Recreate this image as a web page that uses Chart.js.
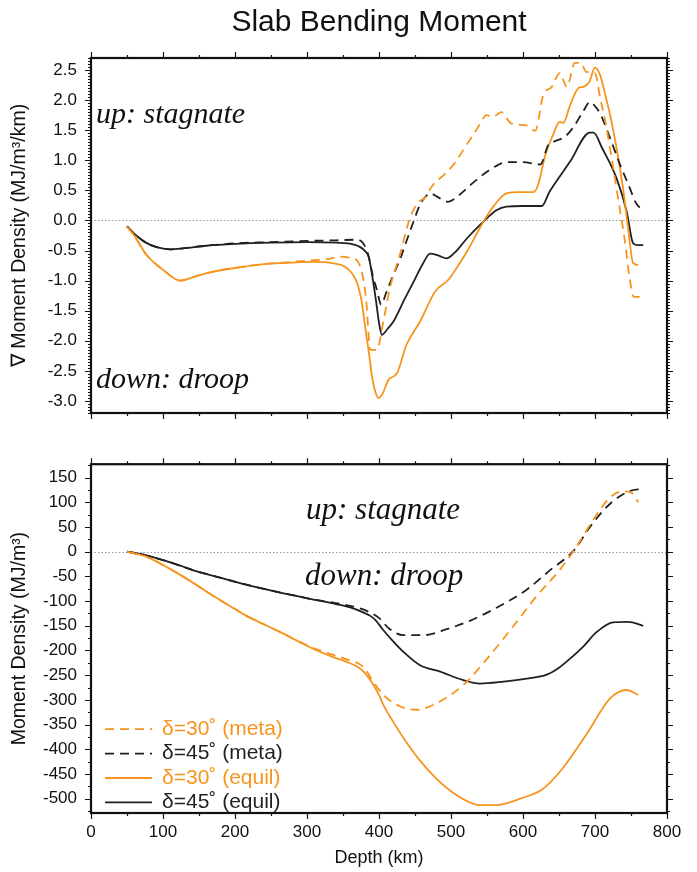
<!DOCTYPE html>
<html>
<head>
<meta charset="utf-8">
<title>Slab Bending Moment</title>
<script src="https://cdn.jsdelivr.net/npm/chart.js@4.4.1/dist/chart.umd.min.js"></script>
<style>
  html, body { margin: 0; padding: 0; background: #fff; }
  #wrap { position: relative; width: 697px; height: 872px; }
  canvas { position: absolute; left: 0; }
  #gradCanvas { top: 0; }
  #momCanvas { top: 440px; }
</style>
</head>
<body>
<div id="wrap">
  <canvas id="gradCanvas" width="697" height="440"></canvas>
  <canvas id="momCanvas" width="697" height="432"></canvas>
</div>
<script>
/* Slab bending moment — two stacked panels sharing the depth axis */

// depth axis (km)
const depthTicks = [0, 100, 200, 300, 400, 500, 600, 700, 800];

// top panel: gradient of moment density (MJ/m^3/km)
const gradTicks = [-3.0, -2.5, -2.0, -1.5, -1.0, -0.5, 0.0, 0.5, 1.0, 1.5, 2.0, 2.5];

const gradDepthMeta30 = [50, 60, 77, 100, 124, 145, 170, 200, 244, 280, 309, 330, 346, 360, 369, 376, 382, 388, 397, 406, 415, 429, 443, 455, 462, 475, 492, 505, 517, 535, 550, 558, 564, 570, 584, 605, 617, 628, 640, 651, 661, 672, 680, 688, 700, 707, 715, 725, 733, 741, 748, 754, 762];
const gradMeta30 = [-0.10, -0.25, -0.57, -0.82, -1.00, -0.93, -0.85, -0.79, -0.72, -0.69, -0.66, -0.64, -0.60, -0.62, -0.66, -0.85, -1.30, -2.15, -2.15, -1.68, -1.13, -0.57, 0.04, 0.31, 0.36, 0.59, 0.78, 0.95, 1.17, 1.50, 1.75, 1.72, 1.76, 1.80, 1.61, 1.58, 1.49, 2.08, 2.22, 2.45, 2.22, 2.62, 2.62, 2.47, 2.45, 2.05, 1.60, 0.90, 0.30, -0.30, -0.95, -1.27, -1.27];

const gradDepthMeta45 = [50, 60, 75, 90, 110, 130, 160, 200, 250, 300, 340, 369, 378, 385, 392, 397, 403, 410, 420, 430, 438, 447, 457, 465, 471, 480, 490, 496, 505, 517, 530, 550, 565, 577, 600, 624, 635, 645, 658, 670, 683, 693, 700, 707, 720, 735, 748, 756, 767];
const gradMeta45 = [-0.10, -0.22, -0.36, -0.44, -0.48, -0.46, -0.42, -0.38, -0.36, -0.34, -0.33, -0.32, -0.38, -0.57, -0.95, -1.15, -1.40, -1.20, -0.90, -0.62, -0.35, -0.05, 0.26, 0.40, 0.45, 0.40, 0.33, 0.31, 0.36, 0.48, 0.62, 0.81, 0.92, 0.97, 0.97, 0.93, 1.25, 1.32, 1.39, 1.55, 1.80, 1.97, 1.90, 1.78, 1.40, 0.92, 0.55, 0.31, 0.15];

const gradDepthEq30 = [50, 60, 77, 100, 124, 145, 170, 200, 244, 280, 309, 335, 355, 369, 376, 381, 386, 390, 395, 399, 405, 413, 425, 438, 457, 478, 496, 510, 522, 545, 560, 577, 595, 614, 621, 631, 641, 651, 656, 665, 677, 684, 692, 700, 707, 714, 721, 730, 739, 746, 753, 760];
const gradEq30 = [-0.10, -0.25, -0.57, -0.82, -1.00, -0.93, -0.85, -0.79, -0.72, -0.70, -0.69, -0.71, -0.79, -1.02, -1.35, -1.79, -2.20, -2.57, -2.85, -2.95, -2.88, -2.65, -2.54, -2.07, -1.68, -1.18, -0.99, -0.75, -0.52, -0.02, 0.25, 0.45, 0.47, 0.47, 0.59, 1.09, 1.40, 1.64, 1.62, 1.90, 2.20, 2.22, 2.30, 2.54, 2.42, 2.10, 1.75, 1.20, 0.53, -0.13, -0.71, -0.74];

const gradDepthEq45 = [50, 60, 75, 90, 110, 130, 160, 200, 250, 300, 340, 365, 380, 386, 391, 396, 400, 404, 412, 420, 435, 448, 460, 471, 482, 494, 508, 522, 545, 563, 577, 600, 626, 637, 665, 693, 698, 710, 730, 744, 753, 760, 767];
const gradEq45 = [-0.10, -0.22, -0.36, -0.44, -0.48, -0.46, -0.42, -0.39, -0.37, -0.36, -0.37, -0.40, -0.50, -0.62, -0.95, -1.35, -1.70, -1.90, -1.80, -1.68, -1.32, -1.02, -0.74, -0.55, -0.58, -0.63, -0.50, -0.30, -0.02, 0.17, 0.23, 0.24, 0.24, 0.48, 0.97, 1.46, 1.46, 1.20, 0.70, 0.15, -0.38, -0.41, -0.41];

// bottom panel: moment density (MJ/m^3)
const momTicks = [-500, -450, -400, -350, -300, -250, -200, -150, -100, -50, 0, 50, 100, 150];

const momDepthMeta30 = [50, 77, 100, 124, 147, 170, 193, 216, 240, 263, 286, 309, 332, 355, 378, 392, 406, 429, 452, 480, 517, 550, 587, 619, 651, 671, 697, 721, 739, 750, 760];
const momMeta30 = [0, -10, -27, -47, -68, -90, -110, -130, -147, -163, -180, -195, -207, -218, -233, -263, -290, -313, -320, -307, -270, -217, -150, -90, -37, 3, 63, 110, 122, 120, 100];

const momDepthMeta45 = [50, 75, 100, 125, 147, 175, 198, 230, 263, 290, 309, 340, 360, 378, 399, 415, 434, 462, 494, 526, 564, 605, 638, 671, 693, 721, 749, 765];
const momMeta45 = [0, -7, -17, -29, -40, -51, -60, -72, -83, -91, -97, -104, -110, -117, -133, -157, -169, -169, -157, -140, -113, -77, -37, 3, 50, 97, 123, 127];

const momDepthEq30 = [50, 77, 100, 124, 147, 170, 193, 216, 240, 263, 286, 309, 332, 355, 370, 380, 390, 400, 406, 420, 434, 457, 480, 508, 540, 563, 596, 628, 656, 688, 721, 744, 760];
const momEq30 = [0, -10, -27, -47, -68, -90, -110, -130, -147, -163, -180, -197, -211, -223, -233, -245, -265, -290, -310, -345, -377, -423, -460, -493, -513, -513, -500, -480, -437, -370, -297, -280, -290];

const momDepthEq45 = [50, 75, 100, 125, 147, 175, 198, 230, 263, 290, 309, 340, 360, 378, 388, 396, 405, 420, 434, 457, 485, 517, 540, 573, 605, 633, 650, 665, 685, 702, 725, 746, 767];
const momEq45 = [0, -7, -17, -29, -40, -51, -60, -72, -83, -91, -97, -106, -113, -123, -130, -140, -157, -182, -203, -230, -243, -260, -267, -263, -257, -249, -235, -217, -190, -163, -143, -142, -150];

const seriesLabels = ['δ=30˚ (meta)', 'δ=45˚ (meta)', 'δ=30˚ (equil)', 'δ=45˚ (equil)'];

const ORANGE = '#f7941d';
const INK = '#231f20';
const SANS = '"Liberation Sans", Arial, Helvetica, sans-serif';
const SERIF = '"Liberation Serif", "Times New Roman", serif';

Chart.defaults.font.family = SANS;
Chart.defaults.color = '#111';

const pts = (xs, ys) => xs.map((x, i) => ({ x, y: ys[i] }));

function lineDataset(label, xs, ys, color, dashed) {
  return {
    label,
    data: pts(xs, ys),
    borderColor: color,
    borderWidth: 1.8,
    borderDash: dashed ? [9, 6] : [],
    pointRadius: 0,
    fill: false,
    cubicInterpolationMode: 'monotone',
  };
}

// frame, outward ticks on all four sides, dotted zero line, text notes, legend
const framePlugin = {
  id: 'frame',
  beforeDatasetsDraw(chart) {
    const { ctx, chartArea: a, scales: { y } } = chart;
    const py = Math.round(y.getPixelForValue(0)) + 0.5;
    ctx.save();
    ctx.strokeStyle = '#9a9a9a';
    ctx.lineWidth = 1;
    ctx.setLineDash([1.5, 2]);
    ctx.beginPath();
    ctx.moveTo(a.left, py);
    ctx.lineTo(a.right, py);
    ctx.stroke();
    ctx.restore();
  },
  afterDatasetsDraw(chart, args, o) {
    const { ctx, chartArea: a, scales: { x, y } } = chart;
    ctx.save();
    ctx.strokeStyle = '#111';
    ctx.lineWidth = 1.2;
    ctx.beginPath();
    for (let v = depthTicks[0]; v <= depthTicks[depthTicks.length - 1]; v += 50) {
      const px = Math.round(x.getPixelForValue(v)) + 0.5;
      const len = v % 100 === 0 ? 6 : 3;
      ctx.moveTo(px, a.bottom); ctx.lineTo(px, a.bottom + len);
      ctx.moveTo(px, a.top); ctx.lineTo(px, a.top - len);
    }
    const n = Math.round((o.hi - o.lo) / o.minor);
    for (let i = 0; i <= n; i++) {
      const v = o.lo + i * o.minor;
      const py = Math.round(y.getPixelForValue(v)) + 0.5;
      const r = v / o.major;
      const len = Math.abs(r - Math.round(r)) < 1e-6 ? 6 : 3;
      ctx.moveTo(a.left, py); ctx.lineTo(a.left - len, py);
      ctx.moveTo(a.right, py); ctx.lineTo(a.right + len, py);
    }
    ctx.stroke();
    ctx.lineWidth = 2.2;
    ctx.strokeRect(a.left, a.top, a.right - a.left, a.bottom - a.top);
    ctx.restore();
  },
  afterDraw(chart, args, o) {
    const { ctx, chartArea: a } = chart;
    ctx.save();
    ctx.fillStyle = '#111';
    ctx.textBaseline = 'alphabetic';
    (o.notes || []).forEach((n) => {
      ctx.font = 'italic ' + n.size + 'px ' + SERIF;
      ctx.fillText(n.text, a.left + n.dx, a.top + n.dy);
    });

    if (o.legend) {
      ctx.font = '21px ' + SANS;
      ctx.textBaseline = 'middle';
      chart.data.datasets.forEach((ds, i) => {
        const yy = a.top + o.legend.dy + i * o.legend.step;
        ctx.strokeStyle = ds.borderColor;
        ctx.lineWidth = ds.borderWidth;
        ctx.setLineDash(ds.borderDash);
        ctx.beginPath();
        ctx.moveTo(a.left + 14, yy);
        ctx.lineTo(a.left + 61, yy);
        ctx.stroke();
        ctx.fillStyle = ds.borderColor;
        ctx.fillText(ds.label, a.left + 71, yy);
      });
    }
    ctx.restore();
  },
};

function xScale(showLabels) {
  return {
    type: 'linear',
    min: 0,
    max: 800,
    display: showLabels,
    grid: { display: false, drawTicks: false },
    border: { display: false },
    afterBuildTicks: (s) => { s.ticks = depthTicks.map((v) => ({ value: v })); },
    afterFit: (s) => { s.height = showLabels ? 59 : 0; },
    ticks: { padding: 9, font: { size: 17 }, color: '#111' },
    title: { display: true, text: 'Depth (km)', font: { size: 18 }, color: '#111', padding: { top: 0, bottom: 3 } },
  };
}

function yScale(min, max, ticks, digits, titleText) {
  return {
    type: 'linear',
    min,
    max,
    grid: { display: false, drawTicks: false },
    border: { display: false },
    afterBuildTicks: (s) => { s.ticks = ticks.map((v) => ({ value: v })); },
    afterFit: (s) => { s.width = 91; },
    ticks: { padding: 14, font: { size: 17 }, color: '#111', callback: (v) => Number(v).toFixed(digits) },
    title: { display: true, text: titleText, font: { size: 19.5 }, color: '#111', padding: { top: 8, bottom: 0 } },
  };
}

const gradChart = new Chart(document.getElementById('gradCanvas'), {
  type: 'line',
  data: {
    datasets: [
      lineDataset(seriesLabels[0], gradDepthMeta30, gradMeta30, ORANGE, true),
      lineDataset(seriesLabels[1], gradDepthMeta45, gradMeta45, INK, true),
      lineDataset(seriesLabels[2], gradDepthEq30, gradEq30, ORANGE, false),
      lineDataset(seriesLabels[3], gradDepthEq45, gradEq45, INK, false),
    ],
  },
  options: {
    responsive: false,
    animation: false,
    devicePixelRatio: 1,
    layout: { padding: { left: 0, right: 30, top: 0, bottom: 27 } },
    scales: {
      x: xScale(false),
      y: yScale(-3.2, 2.7, gradTicks, 1, '∇ Moment Density (MJ/m³/km)'),
    },
    plugins: {
      legend: { display: false },
      tooltip: { enabled: false },
      title: {
        display: true,
        text: 'Slab Bending Moment',
        fullSize: false,
        color: '#111',
        font: { size: 30, weight: 'normal' },
        padding: { top: 5, bottom: 17 },
      },
      frame: {
        lo: -3.2, hi: 2.7, minor: 0.05, major: 0.5,
        notes: [
          { text: 'up: stagnate', dx: 5, dy: 65, size: 30 },
          { text: 'down: droop', dx: 5, dy: 330, size: 30 },
        ],
      },
    },
  },
  plugins: [framePlugin],
});

const momChart = new Chart(document.getElementById('momCanvas'), {
  type: 'line',
  data: {
    datasets: [
      lineDataset(seriesLabels[0], momDepthMeta30, momMeta30, ORANGE, true),
      lineDataset(seriesLabels[1], momDepthMeta45, momMeta45, INK, true),
      lineDataset(seriesLabels[2], momDepthEq30, momEq30, ORANGE, false),
      lineDataset(seriesLabels[3], momDepthEq45, momEq45, INK, false),
    ],
  },
  options: {
    responsive: false,
    animation: false,
    devicePixelRatio: 1,
    layout: { padding: { left: 0, right: 30, top: 20, bottom: 0 } },
    scales: {
      x: xScale(true),
      y: yScale(-529, 177, momTicks, 0, 'Moment Density (MJ/m³)'),
    },
    plugins: {
      legend: { display: false },
      tooltip: { enabled: false },
      frame: {
        lo: -525, hi: 175, minor: 25, major: 50,
        notes: [
          { text: 'up: stagnate', dx: 215, dy: 55, size: 31 },
          { text: 'down: droop', dx: 214, dy: 121, size: 31 },
        ],
        legend: { dy: 265, step: 24.4 },
      },
    },
  },
  plugins: [framePlugin],
});
</script>
</body>
</html>
